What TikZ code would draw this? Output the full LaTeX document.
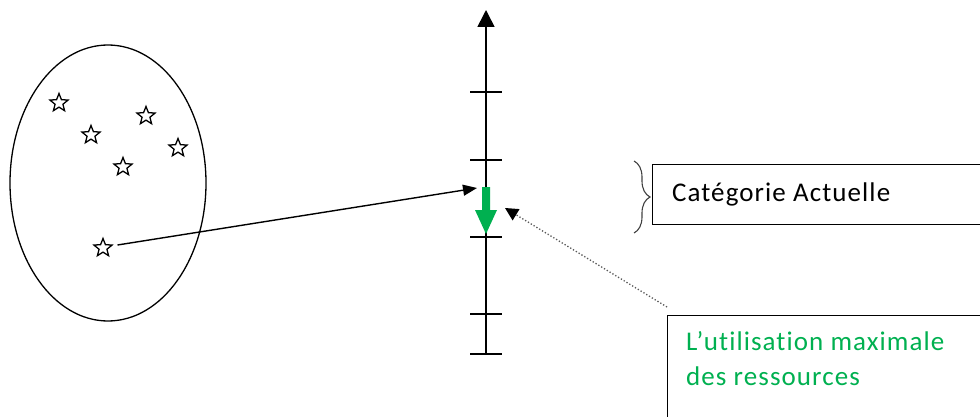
\documentclass[tikz,border=0pt]{standalone}
\usepackage{fontspec}
\setmainfont{Carlito}[LetterSpace=4, Ligatures={NoCommon}]
\usetikzlibrary{shapes.geometric,decorations.pathreplacing,arrows.meta}
\definecolor{offgreen}{RGB}{0,176,80}
\begin{document}
\begin{tikzpicture}[x=1pt,y=-1pt,
  starmark/.style={star, star points=5, star point ratio=2.3, draw, line width=1.3pt, minimum size=19pt, inner sep=0pt},
  boxstyle/.style={draw, line width=1.4pt, anchor=north west, inner sep=0pt},
  tickline/.style={line width=1.6pt},
  lbl/.style={font=\fontsize{27}{35}\selectfont, anchor=base west, inner sep=0pt}
]
\useasboundingbox (0,0) rectangle (980,417);
\clip (0,0) rectangle (980,417);
% ellipse
\node[ellipse, draw, line width=1.3pt, minimum width=196pt, minimum height=276pt, inner sep=0pt] (set) at (108,183) {};
% stars
\node[starmark] (s1) at (59,103) {};
\node[starmark] (s2) at (146,116) {};
\node[starmark] (s3) at (91,135) {};
\node[starmark] (s4) at (178,148) {};
\node[starmark] (s5) at (123,167) {};
\node[starmark] (s6) at (103,248) {};
% axis
\coordinate (abot) at (486,354);
\coordinate (atop) at (486,10);
\draw[tickline, -{Triangle[length=17pt,width=17pt]}] (abot) -- (atop);
\foreach \y/\n in {92/t1,160/t2,237/t3,314/t4,354/t5}{
  \coordinate (\n l) at (470,\y);
  \coordinate (\n r) at (502,\y);
  \draw[tickline] (\n l) -- (\n r);
}
% green arrow
\coordinate (gtop) at (486,187);
\coordinate (gtip) at (486,234);
\fill[offgreen] (482,187) -- (490,187) -- (490,210) -- (497,210) -- (gtip) -- (475,210) -- (482,210) -- cycle;
% black arrow from star
\coordinate (target) at (477,188);
\draw[line width=1.4pt, -{Triangle[length=14pt,width=11pt]}] (s6.east) ++(8,-3) coordinate (bstart) -- (target);
% boxes
\node[boxstyle, minimum width=360pt, minimum height=60pt] (catbox) at (652,164) {};
\node[lbl] (cattext) at (672,201) {Catégorie Actuelle};
\node[boxstyle, minimum width=360pt, minimum height=140pt] (resbox) at (667,315) {};
\node[lbl, text=offgreen] (res1) at (686,350) {L’utilisation maximale};
\node[lbl, text=offgreen] (res2) at (686,385) {des ressources};
% brace
\draw[line width=1.1pt, gray!50!black, decorate, decoration={brace, amplitude=16pt}] (634,161) -- (634,233);
% dotted pointer
\coordinate (ptip) at (505,208);
\draw[gray!70!black, line width=1.3pt, dotted, -{Triangle[length=13pt,width=13pt,black]}] (resbox.north west) ++(0,-8) -- (ptip);
\end{tikzpicture}
\end{document}
